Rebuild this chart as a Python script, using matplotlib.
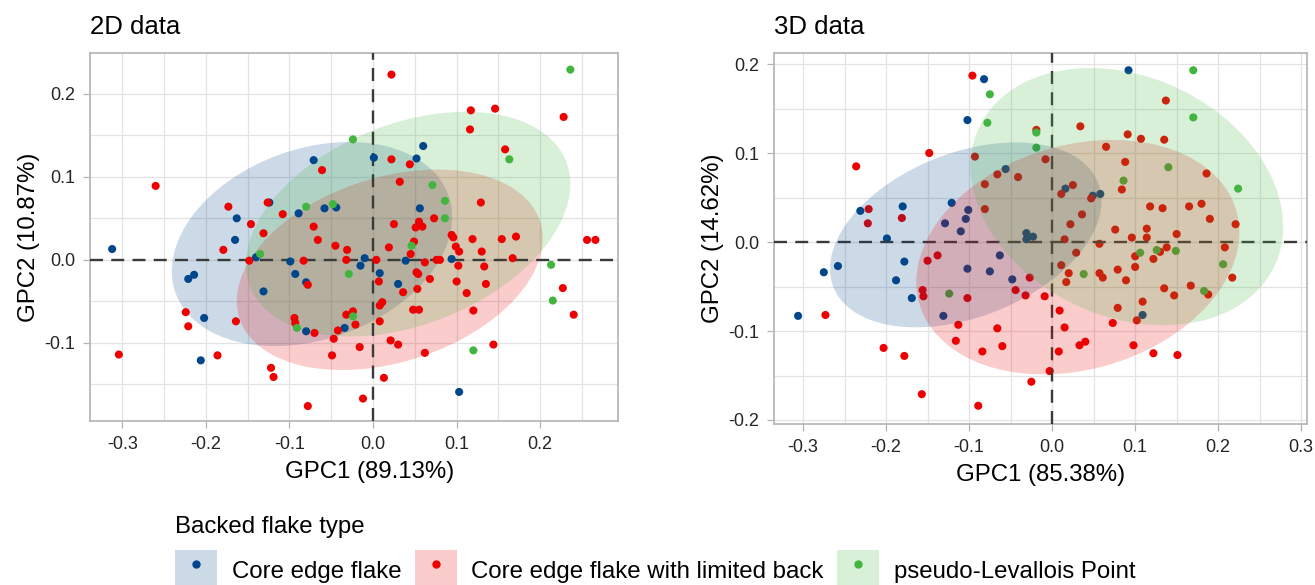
import matplotlib
matplotlib.use("Agg")
import matplotlib.pyplot as plt
from matplotlib.patches import Ellipse, Patch
from matplotlib.lines import Line2D
from matplotlib.legend_handler import HandlerTuple
import numpy as np

plt.rcParams["font.family"] = ["Liberation Sans", "DejaVu Sans"]
plt.rcParams["axes.unicode_minus"] = False

GROUPS = ["Core edge flake", "Core edge flake with limited back", "pseudo-Levallois Point"]
COLORS = ["#00468B", "#ED0000", "#42B540"]   # lancet palette

# ---------- 2D data: GPC scores ----------
d2_blue_x = [-0.071, -0.124, -0.163, -0.089, -0.058, -0.044, -0.165, 0.060, 0.001, 0.052,
             0.056, -0.010, 0.039, 0.094, -0.015, 0.008, 0.030, 0.103, -0.312, -0.140,
             -0.099, -0.214, -0.221, -0.093, -0.080, -0.131, -0.202, -0.080, -0.034, -0.206]
d2_blue_y = [0.120, 0.069, 0.050, 0.056, 0.062, 0.063, 0.024, 0.137, 0.123, 0.122,
             0.062, 0.002, -0.001, 0.001, -0.007, -0.016, -0.029, -0.159, 0.013, 0.003,
             -0.002, -0.018, -0.023, -0.017, -0.027, -0.038, -0.070, -0.086, -0.082, -0.121]

d2_red_x = [-0.260, -0.061, -0.173, -0.146, -0.131, -0.126, -0.108, -0.071, -0.066, 0.022,
            0.117, 0.146, 0.228, 0.116, 0.022, 0.044, 0.158, 0.032, 0.129, 0.073,
            0.025, 0.055, 0.051, 0.059, 0.094, 0.096, 0.119, 0.154, 0.171, 0.256,
            0.266, 0.049, 0.045, 0.019, 0.099, 0.103, 0.130, 0.167, 0.004, 0.062,
            0.076, 0.080, 0.102, 0.133, 0.052, 0.054, 0.007, 0.068, 0.100, 0.135,
            0.036, 0.053, 0.112, 0.227, 0.011, 0.008, 0.048, 0.055, 0.120, 0.240,
            -0.024, -0.021, 0.008, 0.021, 0.030, -0.016, 0.062, 0.144, 0.013, -0.012,
            -0.179, -0.045, -0.031, -0.148, -0.083, -0.032, -0.078, -0.224, -0.221, -0.164,
            -0.094, -0.093, -0.070, -0.032, -0.042, -0.047, -0.049, -0.304, -0.186, -0.122,
            -0.119, -0.078]
d2_red_y = [0.089, 0.108, 0.064, 0.043, 0.032, 0.069, 0.055, 0.040, 0.024, 0.223,
            0.180, 0.182, 0.172, 0.157, 0.121, 0.115, 0.133, 0.094, 0.069, 0.050,
            0.043, 0.046, 0.039, 0.040, 0.030, 0.027, 0.025, 0.025, 0.028, 0.024,
            0.024, 0.022, 0.007, 0.015, 0.016, 0.010, 0.010, 0.002, 0.000, -0.003,
            0.000, 0.000, -0.007, -0.008, -0.015, -0.017, -0.026, -0.023, -0.026, -0.029,
            -0.039, -0.035, -0.040, -0.034, -0.051, -0.055, -0.060, -0.060, -0.061, -0.066,
            -0.062, -0.078, -0.074, -0.097, -0.102, -0.105, -0.112, -0.102, -0.142, -0.167,
            0.012, 0.017, 0.012, -0.001, -0.001, 0.000, -0.030, -0.063, -0.080, -0.074,
            -0.070, -0.076, -0.088, -0.066, -0.085, -0.095, -0.115, -0.114, -0.115, -0.130,
            -0.141, -0.176]

d2_green_x = [-0.024, 0.236, 0.163, -0.080, -0.048, 0.071, 0.086, 0.086, 0.046, -0.135,
              -0.029, 0.213, 0.215, -0.091, -0.024, 0.120]
d2_green_y = [0.145, 0.229, 0.121, 0.064, 0.067, 0.090, 0.071, 0.050, 0.017, 0.007,
              -0.017, -0.006, -0.049, -0.082, -0.068, -0.109]

# ---------- 3D data: GPC scores ----------
d3_blue_x = [-0.082, -0.102, -0.056, -0.180, -0.231, -0.121, -0.101, -0.104, -0.129, -0.110,
             -0.199, -0.031, -0.023, -0.031, 0.092, 0.016, 0.049, 0.058, 0.109, -0.275,
             -0.258, -0.178, -0.063, -0.102, -0.075, -0.048, -0.188, -0.169, -0.131, -0.306]
d3_blue_y = [0.183, 0.137, 0.082, 0.040, 0.035, 0.044, 0.036, 0.026, 0.021, 0.012,
             0.004, 0.010, 0.006, 0.003, 0.193, 0.060, 0.052, 0.054, -0.082, -0.034,
             -0.027, -0.022, -0.015, -0.030, -0.033, -0.042, -0.043, -0.063, -0.083, -0.083]

d3_red_x = [-0.096, -0.148, -0.236, -0.093, -0.066, -0.041, -0.081, -0.019, -0.221, -0.222,
            -0.181, -0.081, 0.137, 0.034, 0.091, 0.107, 0.135, 0.065, -0.008, 0.088,
            0.186, 0.025, 0.011, 0.047, 0.084, 0.118, 0.133, 0.165, 0.180, 0.036,
            0.022, 0.190, 0.221, 0.076, 0.114, 0.150, 0.096, 0.114, 0.015, 0.057,
            0.208, 0.029, 0.100, 0.130, 0.138, 0.122, 0.011, 0.100, 0.020, 0.017,
            0.057, 0.061, 0.079, 0.089, 0.217, 0.135, 0.147, 0.167, 0.188, 0.109,
            0.079, 0.102, 0.073, -0.009, 0.009, 0.015, 0.033, 0.040, 0.098, 0.122,
            0.151, 0.008, -0.003, -0.025, -0.027, -0.150, -0.138, -0.044, -0.032, -0.156,
            -0.155, -0.102, -0.273, -0.113, -0.066, -0.116, -0.060, -0.084, -0.203, -0.178,
            -0.157, -0.089]
d3_red_y = [0.187, 0.100, 0.085, 0.096, 0.076, 0.073, 0.065, 0.126, 0.037, 0.021,
            0.027, 0.037, 0.159, 0.130, 0.121, 0.116, 0.115, 0.107, 0.093, 0.090,
            0.077, 0.064, 0.054, 0.049, 0.059, 0.040, 0.038, 0.040, 0.043, 0.031,
            0.020, 0.026, 0.020, 0.014, 0.015, 0.009, 0.005, 0.005, 0.003, -0.002,
            -0.006, -0.012, -0.016, -0.011, -0.006, -0.019, -0.026, -0.028, -0.035, -0.045,
            -0.035, -0.040, -0.031, -0.043, -0.040, -0.052, -0.060, -0.049, -0.059, -0.067,
            -0.074, -0.088, -0.091, -0.061, -0.077, -0.096, -0.116, -0.112, -0.116, -0.125,
            -0.127, -0.123, -0.145, -0.157, -0.040, -0.021, -0.015, -0.054, -0.060, -0.054,
            -0.061, -0.063, -0.082, -0.093, -0.097, -0.111, -0.117, -0.123, -0.119, -0.128,
            -0.171, -0.184]

d3_green_x = [-0.075, -0.078, -0.019, -0.019, 0.170, 0.170, 0.140, 0.086, 0.224, 0.106,
              0.126, 0.149, 0.206, 0.038, 0.183, -0.124]
d3_green_y = [0.166, 0.134, 0.123, 0.106, 0.193, 0.140, 0.084, 0.069, 0.060, -0.012,
              -0.009, -0.010, -0.025, -0.036, -0.055, -0.058]

# 95% ellipses per group: centre x, centre y, width, height, angle (deg)
d2_ell_cx = [-0.073, 0.020, 0.042]
d2_ell_cy = [0.019, -0.012, 0.043]
d2_ell_w = [0.347, 0.378, 0.407]
d2_ell_h = [0.229, 0.222, 0.241]
d2_ell_ang = [20, 18, 22]

d3_ell_cx = [-0.104, 0.031, 0.090]
d3_ell_cy = [0.008, -0.017, 0.051]
d3_ell_w = [0.340, 0.396, 0.389]
d3_ell_h = [0.186, 0.253, 0.272]
d3_ell_ang = [19, 14, -20.6]

d2_var = (89.13, 10.87)
d3_var = (85.38, 14.62)

GRID = "#e3e3e3"
BORDER = "#b3b3b3"
TXT = "#262626"
FS = 17.3


def style_axes(ax, xlim, ylim, xticks, yticks):
    ax.set_xticks(xticks)
    ax.set_yticks(yticks)
    ax.set_xticklabels([f"{v:.1f}" for v in xticks])
    ax.set_yticklabels([f"{v:.1f}" for v in yticks])
    ax.set_xticks(np.arange(-0.35, 0.351, 0.05), minor=True)
    ax.set_yticks(np.arange(-0.25, 0.251, 0.05), minor=True)
    # limits last, set_xticks would otherwise widen them
    ax.set_xlim(*xlim)
    ax.set_ylim(*ylim)
    ax.grid(True, which="both", color=GRID, linewidth=0.9, zorder=0)
    ax.set_axisbelow(True)
    ax.tick_params(which="major", length=5, width=0.9, color=BORDER, labelsize=13,
                   labelcolor=TXT, pad=5.7)
    ax.tick_params(which="minor", length=0)
    for s in ax.spines.values():
        s.set_color(BORDER)
        s.set_linewidth(1.2)


def draw_panel(ax, xs, ys, ell, ell_on_top):
    z_ell, z_pts = (4, 2) if ell_on_top else (1.5, 4)
    for (cx, cy, w, h, a), c in zip(zip(*ell), COLORS):
        ax.add_patch(Ellipse((cx, cy), w, h, angle=a, facecolor=c, edgecolor="none",
                             alpha=0.2, zorder=z_ell))
    ax.axhline(0, color="#3a3a3a", lw=1.7, dashes=(5.5, 3.5), zorder=3)
    ax.axvline(0, color="#3a3a3a", lw=1.7, dashes=(5.5, 3.5), zorder=3)
    for x, y, c in zip(xs, ys, COLORS):
        ax.scatter(x, y, s=34, color=c, edgecolors="none", zorder=z_pts)


fig = plt.figure(figsize=(13.15, 5.85), dpi=100)
W, H = 1315, 585
axL = fig.add_axes([90 / W, 1 - 421 / H, 528 / W, 368 / H])
axR = fig.add_axes([774 / W, 1 - 424 / H, 533 / W, 371 / H])

draw_panel(axL, [d2_blue_x, d2_red_x, d2_green_x], [d2_blue_y, d2_red_y, d2_green_y],
           (d2_ell_cx, d2_ell_cy, d2_ell_w, d2_ell_h, d2_ell_ang), ell_on_top=False)
draw_panel(axR, [d3_blue_x, d3_red_x, d3_green_x], [d3_blue_y, d3_red_y, d3_green_y],
           (d3_ell_cx, d3_ell_cy, d3_ell_w, d3_ell_h, d3_ell_ang), ell_on_top=True)

style_axes(axL, (-0.3385, 0.293), (-0.194, 0.249),
           [-0.3, -0.2, -0.1, 0.0, 0.1, 0.2], [-0.1, 0.0, 0.1, 0.2])
style_axes(axR, (-0.335, 0.307), (-0.2045, 0.2124),
           [-0.3, -0.2, -0.1, 0.0, 0.1, 0.2, 0.3], [-0.2, -0.1, 0.0, 0.1, 0.2])

for ax, name, var in [(axL, "2D data", d2_var), (axR, "3D data", d3_var)]:
    ax.set_xlabel(f"GPC1 ({var[0]:.2f}%)", fontsize=FS, color="black", labelpad=6)
    ax.set_ylabel(f"GPC2 ({var[1]:.2f}%)", fontsize=FS, color="black", labelpad=3)
    ax.set_title(name, loc="left", fontsize=18.5, color="black", pad=14)
axL.title.set_x(-0.004)
axR.title.set_x(-0.021)
axL.xaxis.label.set_x(0.53)

handles = [(Patch(facecolor=c, alpha=0.2, edgecolor="none"),
            Line2D([], [], marker="o", color=c, linestyle="", markersize=5))
           for c in COLORS]
leg = fig.legend(handles, GROUPS, title="Backed flake type", loc="upper left",
                 bbox_to_anchor=(175 / W, 1 - 516 / H), ncol=3, frameon=False,
                 fontsize=FS, title_fontsize=FS, alignment="left",
                 handlelength=1.75, handleheight=2.3, handletextpad=0.62,
                 columnspacing=0.54, borderpad=0, borderaxespad=0,
                 handler_map={tuple: HandlerTuple(ndivide=1)})

fig.savefig("out.png", dpi=100)
